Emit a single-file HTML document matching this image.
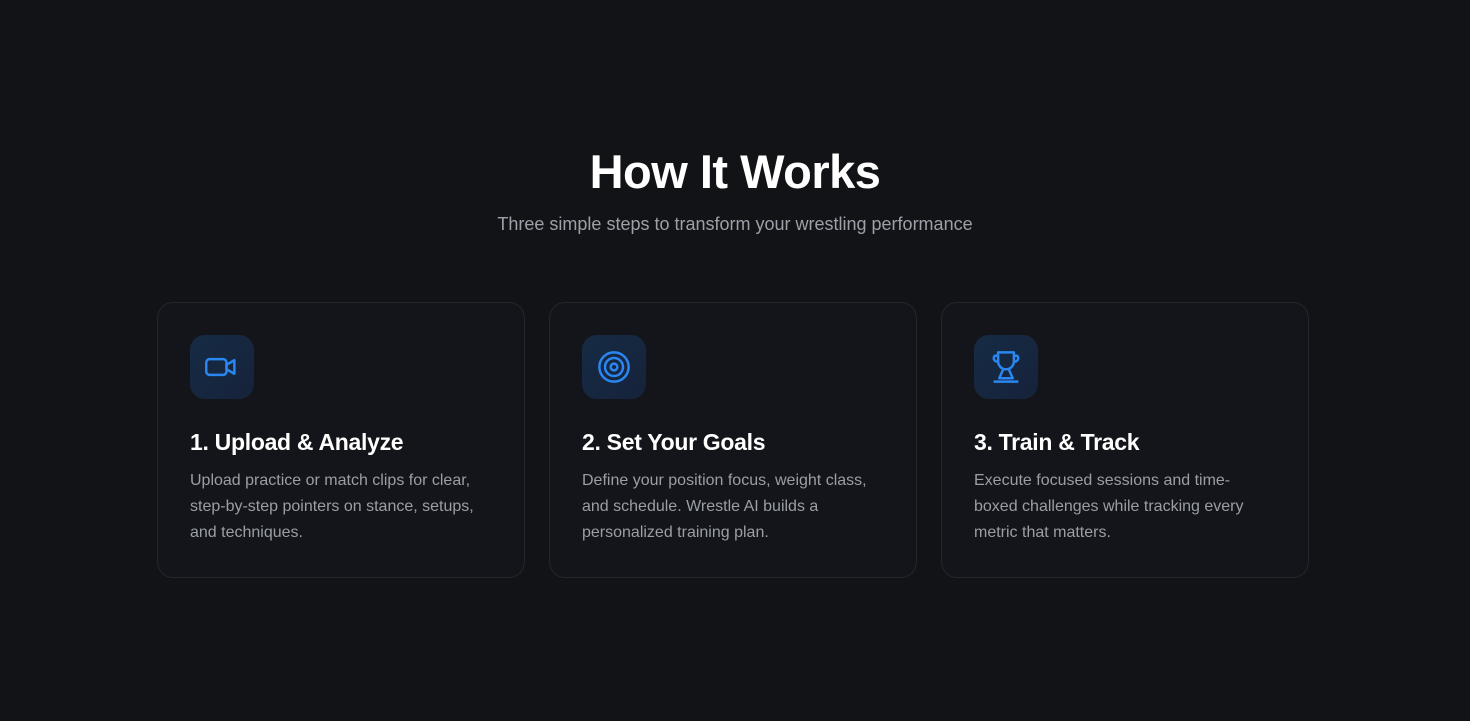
<!DOCTYPE html>
<html><head><style>
html,body{margin:0;padding:0;background:#121317;width:1470px;height:721px;overflow:hidden;font-family:"Liberation Sans",sans-serif;}
h1{position:absolute;left:0;width:1470px;top:143px;margin:0;text-align:center;color:#fff;font-size:47px;font-weight:700;letter-spacing:-0.5px;line-height:58px;}
.sub{position:absolute;left:0;width:1470px;top:212px;text-align:center;color:#9ca0a8;font-size:18px;line-height:24px;}
.card{position:absolute;top:302px;width:366px;height:274px;border:1px solid #24262c;border-radius:16px;background:#14151a;}
.ic{position:absolute;left:32px;top:32px;width:64px;height:64px;border-radius:15px;background:linear-gradient(135deg,#172b45,#15233a);}
.ic svg{position:absolute;left:14px;top:14px;}
.t{position:absolute;left:32px;top:124px;color:#fff;font-size:23px;font-weight:700;line-height:30px;letter-spacing:-0.3px;}
.d{position:absolute;left:32px;top:165px;width:290px;color:#9a9ea6;font-size:16px;line-height:26px;}
</style></head><body>
<h1>How It Works</h1>
<div class="sub">Three simple steps to transform your wrestling performance</div>
<div class="card" style="left:157px"><div class="ic"><svg width="36" height="36" viewBox="0 0 32 32" fill="none" stroke="#2a86f0" stroke-width="2.2" stroke-linejoin="round"><rect x="2" y="9" width="18" height="14" rx="3"/><path d="M20 14l7-4v12l-7-4z"/></svg></div>
<div class="t">1. Upload &amp; Analyze</div><div class="d">Upload practice or match clips for clear, step-by-step pointers on stance, setups, and techniques.</div></div>
<div class="card" style="left:549px"><div class="ic"><svg width="36" height="36" viewBox="0 0 32 32" fill="none" stroke="#2a86f0" stroke-width="2.2"><circle cx="16" cy="16" r="13"/><circle cx="16" cy="16" r="8"/><circle cx="16" cy="16" r="3"/></svg></div>
<div class="t">2. Set Your Goals</div><div class="d">Define your position focus, weight class, and schedule. Wrestle AI builds a personalized training plan.</div></div>
<div class="card" style="left:941px"><div class="ic"><svg width="36" height="36" viewBox="0 0 32 32" fill="none" stroke="#2a86f0" stroke-width="2.2" stroke-linejoin="round"><path d="M9 3h14v8a7 7 0 0 1-14 0z"/><path d="M9 6H6a3 3 0 0 0 3 5M23 6h3a3 3 0 0 1-3 5"/><path d="M14 17l-4 9h12l-4-9"/><path d="M5 29h22"/></svg></div>
<div class="t">3. Train &amp; Track</div><div class="d">Execute focused sessions and time-boxed challenges while tracking every metric that matters.</div></div>
</body></html>
